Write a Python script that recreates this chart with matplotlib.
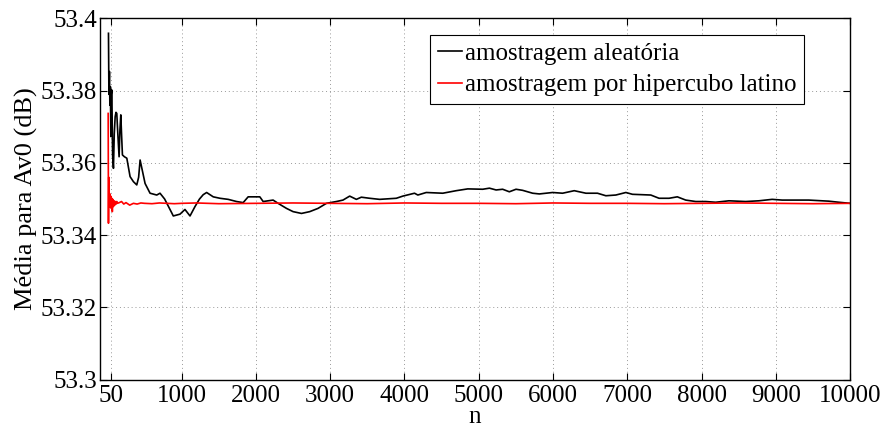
import matplotlib
matplotlib.use("Agg")
import matplotlib.pyplot as plt

plt.rcParams['font.family'] = ['Liberation Serif', 'DejaVu Serif']
plt.rcParams['mathtext.fontset'] = 'stix'

# média acumulada - amostragem aleatória
n_aleat = [14, 20, 27, 33, 40, 46, 52, 59, 70, 81, 92, 104, 115, 126, 140, 157, 168, 180,
           190, 202, 229, 261, 305, 350, 395, 420, 440, 474, 507, 574, 664, 708, 770,
           865, 887, 977, 1044, 1112, 1179, 1240, 1290, 1336, 1425, 1515, 1626, 1739,
           1828, 1895, 2052, 2097, 2231, 2298, 2411, 2500, 2613, 2724, 2836, 2949,
           3083, 3172, 3262, 3352, 3419, 3531, 3665, 3890, 3978, 4135, 4180, 4293,
           4516, 4696, 4852, 5054, 5144, 5234, 5322, 5412, 5502, 5591, 5726, 5816,
           5995, 6129, 6286, 6443, 6599, 6712, 6846, 6981, 7070, 7317, 7428, 7563,
           7674, 7787, 7922, 8056, 8190, 8369, 8594, 8772, 8951, 9086, 9444, 9713,
           9848, 10000]
media_aleat = [53.3959, 53.3790, 53.3853, 53.3760, 53.3811, 53.3673, 53.3790, 53.3802,
               53.3620, 53.3585, 53.3680, 53.3728, 53.3740, 53.3737, 53.3680, 53.3617,
               53.3690, 53.3733, 53.3680, 53.3622, 53.3617, 53.3613, 53.3562, 53.3548,
               53.3539, 53.3560, 53.3608, 53.3575, 53.3543, 53.3516, 53.3511, 53.3516,
               53.3500, 53.3462, 53.3453, 53.3458, 53.3471, 53.3453, 53.3479, 53.3500,
               53.3512, 53.3518, 53.3506, 53.3502, 53.3499, 53.3493, 53.3490, 53.3506,
               53.3506, 53.3493, 53.3497, 53.3488, 53.3474, 53.3465, 53.3460, 53.3465,
               53.3474, 53.3488, 53.3493, 53.3497, 53.3508, 53.3499, 53.3505, 53.3502,
               53.3499, 53.3502, 53.3508, 53.3516, 53.3511, 53.3518, 53.3516, 53.3523,
               53.3528, 53.3527, 53.3530, 53.3525, 53.3527, 53.3520, 53.3527, 53.3524,
               53.3516, 53.3514, 53.3518, 53.3516, 53.3523, 53.3516, 53.3516, 53.3509,
               53.3511, 53.3518, 53.3513, 53.3511, 53.3502, 53.3502, 53.3506, 53.3497,
               53.3493, 53.3493, 53.3491, 53.3495, 53.3493, 53.3495, 53.3499, 53.3497,
               53.3497, 53.3494, 53.3491, 53.3488]

# média acumulada - hipercubo latino
n_lhs = [10, 14, 18, 24, 30, 38, 45, 52, 59, 66, 72, 81, 90, 99, 108, 117, 126, 135,
         160, 190, 220, 250, 300, 350, 400, 450, 500, 600, 700, 800, 900, 1000, 1200,
         1500, 2000, 2500, 3000, 3500, 4000, 4500, 5000, 5500, 6000, 6500, 7000, 7500,
         8000, 8500, 9000, 9500, 10000]
media_lhs = [53.3737, 53.3433, 53.3560, 53.3478, 53.3515, 53.3486, 53.3508, 53.3474,
             53.3502, 53.3465, 53.3499, 53.3479, 53.3495, 53.3483, 53.3493, 53.3486,
             53.3493, 53.3488, 53.3490, 53.3493, 53.3486, 53.3490, 53.3483, 53.3488,
             53.3486, 53.3489, 53.3488, 53.3487, 53.3489, 53.3488, 53.3487, 53.3488,
             53.3489, 53.3487, 53.3488, 53.3489, 53.3488, 53.3487, 53.3489, 53.3488,
             53.3488, 53.3487, 53.3489, 53.3488, 53.3488, 53.3487, 53.3488, 53.3489,
             53.3488, 53.3487, 53.3488]

xticks = [50, 1000, 2000, 3000, 4000, 5000, 6000, 7000, 8000, 9000, 10000]
yticks = [53.3, 53.32, 53.34, 53.36, 53.38, 53.4]
ytick_labels = ['53.3', '53.32', '53.34', '53.36', '53.38', '53.4']

fig = plt.figure(figsize=(8.85, 4.28), dpi=100)
ax = fig.add_axes([0.113, 0.1133, 0.8475, 0.8435])

ax.plot(n_aleat, media_aleat, color='black', lw=1.2, label='amostragem aleatória')
ax.plot(n_lhs, media_lhs, color='red', lw=1.2, label='amostragem por hipercubo latino')

ax.set_xlim(-100, 10000)
ax.set_ylim(53.3, 53.4)
ax.set_xticks(xticks)
ax.set_xticklabels([str(t) for t in xticks])
ax.set_yticks(yticks)
ax.set_yticklabels(ytick_labels)
ax.tick_params(direction='in', length=5, width=0.8, labelsize=18,
               top=True, right=True)
ax.tick_params(axis='x', pad=4)
ax.tick_params(axis='y', pad=2)
ax.grid(True, linestyle=(0, (1, 3)), color='#999999', lw=0.7)
for s in ax.spines.values():
    s.set_linewidth(1.0)

ax.set_xlabel('n', fontsize=18, labelpad=-1)
ax.set_ylabel('Média para Av0 (dB)', fontsize=19, labelpad=2)

leg = ax.legend(loc='upper right', bbox_to_anchor=(0.939, 0.954), fontsize=18,
                fancybox=False, framealpha=1, edgecolor='black',
                handlelength=0.95, handletextpad=0.15, borderpad=0.3,
                labelspacing=0.35, borderaxespad=0)
leg.get_frame().set_linewidth(0.8)

fig.savefig('out.png', dpi=100)
